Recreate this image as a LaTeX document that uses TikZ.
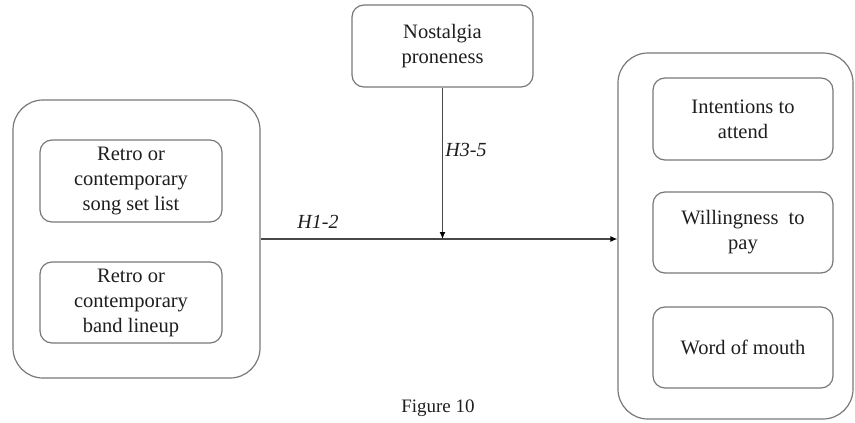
\documentclass[tikz,border=0pt]{standalone}
\usepackage{fontspec}
\setmainfont{Liberation Serif}
\usetikzlibrary{arrows.meta}
\definecolor{boxline}{RGB}{120,120,120}
\definecolor{txt}{RGB}{30,30,30}
\begin{document}
\begin{tikzpicture}[x=1pt,y=-1pt,
  outerbox/.style={draw=boxline,line width=1.2pt,rounded corners=30pt,inner sep=0pt},
  innerbox/.style={draw=boxline,line width=1.2pt,rounded corners=12pt,align=center,inner sep=0pt,
    text=txt,font=\fontsize{20.5}{25}\selectfont},
  conn/.style={draw=boxline!60!black,line width=1.2pt,-{Latex[length=7pt,width=6pt,color=black]}},
  hlabel/.style={text=txt,font=\fontsize{20}{24}\selectfont\itshape}]
\useasboundingbox (0,0) rectangle (855,423);
\node[outerbox,minimum width=247pt,minimum height=278pt] (L) at (136.5,239) {};
\node[innerbox,minimum width=182pt,minimum height=82pt] (s1) at (131,181) {Retro or\\contemporary\\song set list};
\node[innerbox,minimum width=182pt,minimum height=81pt] (s2) at (131,302.5) {Retro or\\contemporary\\band lineup};
\node[innerbox,minimum width=181pt,minimum height=82pt] (N) at (442.5,46) {Nostalgia\\proneness};
\node[outerbox,minimum width=235pt,minimum height=366pt] (R) at (735.5,236) {};
\node[innerbox,minimum width=180pt,minimum height=82pt] (r1) at (743,119) {Intentions to\\attend};
\node[innerbox,minimum width=180pt,minimum height=81pt] (r2) at (743,232.5) {Willingness\ \ to\\pay};
\node[innerbox,minimum width=180pt,minimum height=81pt] (r3) at (743,347.5) {Word of mouth};
\coordinate (meet) at (N.south |- L.east);
\draw[conn] (L.east) -- (L.east -| R.west);
\draw[conn] (N.south) -- (meet);
\node[hlabel] (h12) at (318,222) {H1-2};
\node[hlabel] (h35) at (466,150) {H3-5};
\node[text=txt,font=\fontsize{19}{23}\selectfont] (fig) at (438,408) {Figure 10};
\end{tikzpicture}
\end{document}
